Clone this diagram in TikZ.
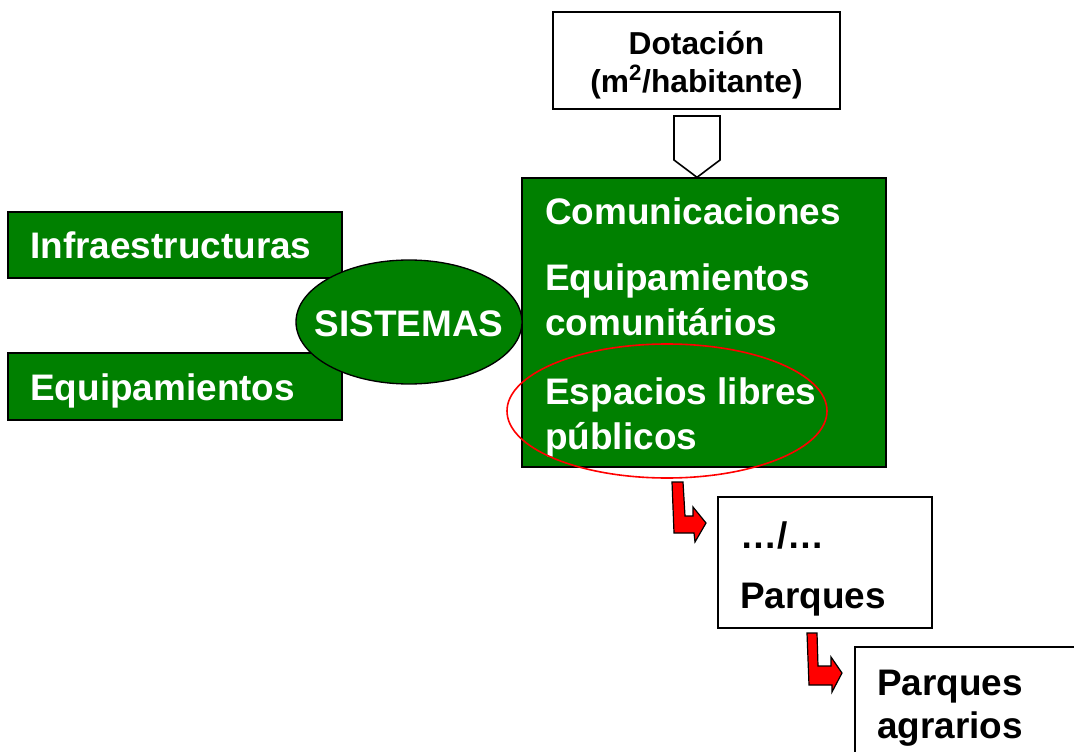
\documentclass[tikz,border=0pt]{standalone}
\usepackage{fontspec}
\setmainfont{Liberation Sans}
\usetikzlibrary{shapes.geometric}
\definecolor{pgreen}{RGB}{0,128,0}
\definecolor{pred}{RGB}{255,0,0}
\tikzset{
  box/.style={draw=black, line width=1.5pt, fill=white, inner sep=0pt},
  gbox/.style={draw=black, line width=1pt, fill=pgreen, inner sep=0pt},
  wtext/.style={text=white, font=\fontsize{27.7}{33}\selectfont\bfseries, inner sep=0pt, anchor=base west},
  btext/.style={text=black, font=\fontsize{27.7}{33}\selectfont\bfseries, inner sep=0pt, anchor=base west},
  bendarrow/.style={fill=pred, draw=black, line width=0.9pt, line join=miter},
}
\begin{document}
\begin{tikzpicture}[x=0.75pt, y=-0.75pt]
\useasboundingbox (0,0) rectangle (1074,752);
% Dotacion box
\node[box, minimum width=215.25pt, minimum height=72.75pt] (dot) at (696.5,60.5) {};
\node[inner sep=0pt, anchor=base, font=\fontsize{23.8}{28}\selectfont\bfseries] (dott1) at (696.5,55) {Dotación};
\node[inner sep=0pt, anchor=base, font=\fontsize{23.8}{28}\selectfont\bfseries] (dott2) at (696.5,93) {(m\textsuperscript{2}/habitante)};
% green main box
\node[gbox, minimum width=273pt, minimum height=216.75pt] (main) at (704,322.5) {};
% pentagon arrow
\draw[fill=white, draw=black, line width=1.2pt] (674,116) -- (720,116) -- (720,160) -- (main.north -| 697,0) -- (674,160) -- cycle;
\node[wtext] (t1) at (545,225) {Comunicaciones};
\node[wtext] (t2) at (545,291) {Equipamientos};
\node[wtext] (t3) at (545,335) {comunitários};
\node[wtext] (t4) at (545,404) {Espacios libres};
\node[wtext] (t5) at (545,449) {públicos};
% left boxes
\node[gbox, minimum width=250.5pt, minimum height=49.5pt] (infra) at (175,245) {};
\node[wtext] (infrat) at (30,259) {Infraestructuras};
\node[gbox, minimum width=250.5pt, minimum height=50.25pt] (equip) at (175,386.5) {};
\node[wtext] (equipt) at (30,400) {Equipamientos};
% SISTEMAS ellipse
\node[ellipse, draw=black, line width=1pt, fill=pgreen, minimum width=169.5pt, minimum height=93pt, inner sep=0pt] (sis) at (409,322) {};
\node[text=white, font=\fontsize{27.7}{33}\selectfont\bfseries, inner sep=0pt, anchor=base] (sist) at (409,336) {SISTEMAS};
% red ellipse
\draw[pred, line width=1.2pt] (667,411) ellipse [x radius=160, y radius=67];
% Parques box
\node[box, minimum width=160.5pt, minimum height=98.25pt] (parq) at (825,562.5) {};
\node[btext] (parqt1) at (740,548) {…/…};
\node[btext] (parqt2) at (740,608) {Parques};
% Parques agrarios box (cut by page edge)
\draw[box] (855,647) rectangle (1100,780);
\coordinate (agr) at (855,647);
\node[btext] (agrt1) at (877,695) {Parques};
\node[btext] (agrt2) at (877,738) {agrarios};
% bent arrows
\draw[bendarrow] (672,482) -- (683,482) -- (685,516) -- (693,516) -- (693,507) -- (706,523) -- (695,542) -- (694,533) -- (674,533) -- cycle;
\draw[bendarrow] (807,633) -- (817,633) -- (818,666) -- (831,666) -- (831,657) -- (842,673) -- (832,692) -- (832,685) -- (809,685) -- cycle;
\end{tikzpicture}
\end{document}
